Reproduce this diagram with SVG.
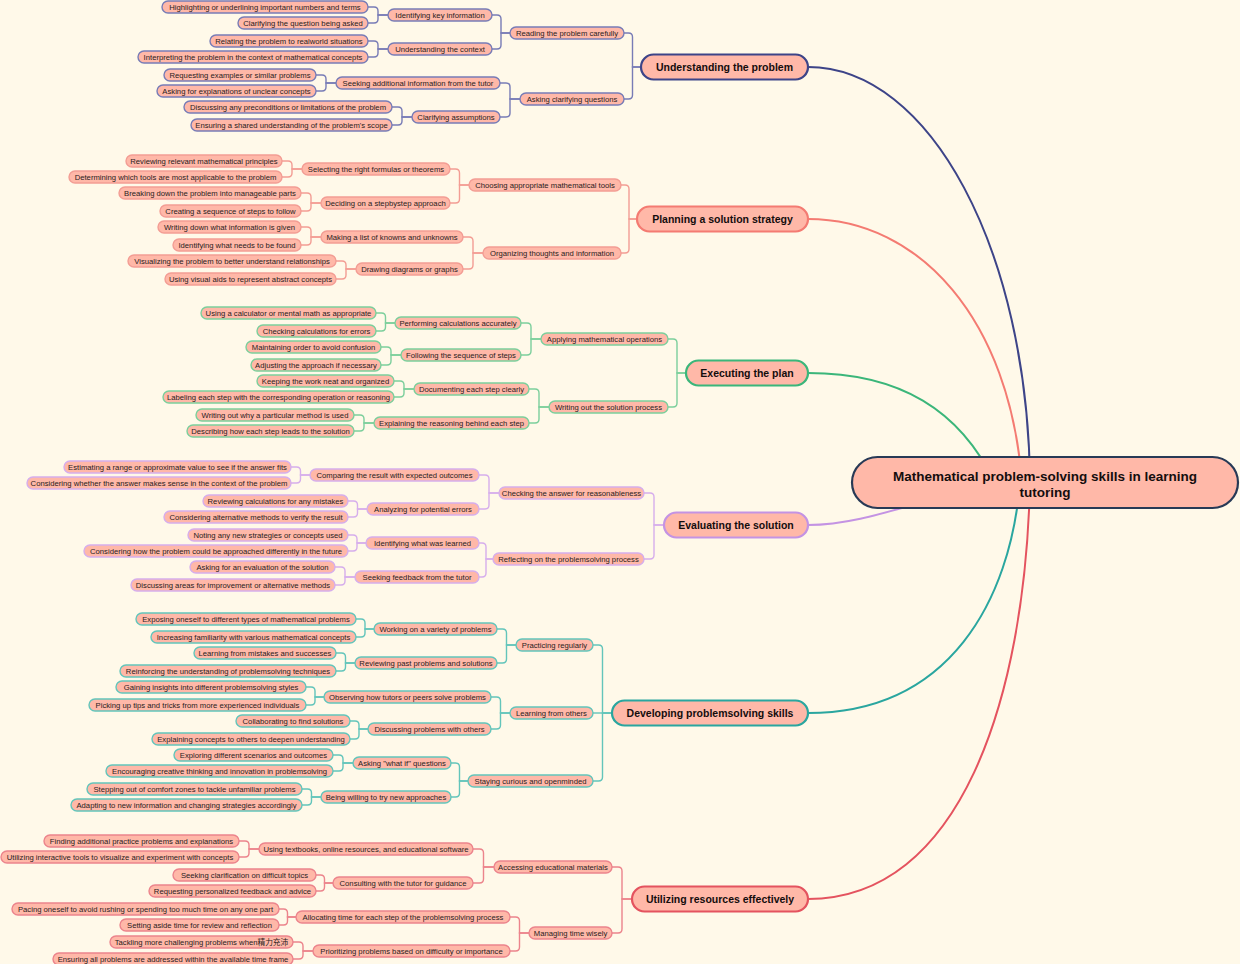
<svg xmlns="http://www.w3.org/2000/svg" width="1240" height="964" viewBox="0 0 1240 964">
<style>
.bg{fill:#fff9e9}
.nd rect{fill:#ffb8a8;stroke-width:1.4}
.nd text{font-family:"Liberation Sans","Noto Sans CJK SC",Arial,sans-serif;font-size:7.7px;fill:#2a1c1c;text-anchor:middle}
.mn rect{fill:#ffb8a8;stroke-width:2.2}
.mn text{font-family:"Liberation Sans",Arial,sans-serif;font-size:10.5px;font-weight:bold;fill:#140d0d;text-anchor:middle}
.ct rect{fill:#ffb8a8;stroke:#283a56;stroke-width:2.2}
.ct text{font-family:"Liberation Sans",Arial,sans-serif;font-size:13.5px;font-weight:bold;fill:#140d0d;text-anchor:middle}
.cn path{fill:none;stroke-width:1.4}
.mc path{fill:none;stroke-width:2}
.bu rect,.cbu{stroke:#787cb6}
.bp rect,.cbp{stroke:#f39d94}
.be rect,.cbe{stroke:#7ccf9c}
.bv rect,.cbv{stroke:#d6aeec}
.bd rect,.cbd{stroke:#63c5bb}
.bt rect,.cbt{stroke:#ec848c}
</style>
<rect class="bg" x="0" y="0" width="1240" height="964"/>

<g id="connectors">
<g class="mc">
<path d="M808,67 C930,67 1028,250 1030,483" stroke="#3d4488"/>
<path d="M808,219 C920,219 1010,320 1022,483" stroke="#f47b72"/>
<path d="M808,373 C900,373 960,410 995,483" stroke="#3bb67a"/>
<path d="M808,525 C880,525 950,483 1030,483" stroke="#c493e3"/>
<path d="M808,713 C950,713 1010,600 1020,483" stroke="#2aa69f"/>
<path d="M808,899 C960,899 1025,700 1030,483" stroke="#e4535f"/>
</g>
<g class="cn">
<g class="cbu">
<path d="M368,7 H374 Q378,7 378,11 V15 H388"/><path d="M368,23 H374 Q378,23 378,19 V15 H388"/>
<path d="M368,41 H374 Q378,41 378,45 V49 H388"/><path d="M368,57 H374 Q378,57 378,53 V49 H388"/>
<path d="M492,15 H497 Q501,15 501,19 V33 H510"/><path d="M492,49 H497 Q501,49 501,45 V33 H510"/>
<path d="M316,75 H322 Q326,75 326,79 V83 H336"/><path d="M316,91 H322 Q326,91 326,87 V83 H336"/>
<path d="M392,107 H398 Q402,107 402,111 V117 H412"/><path d="M392,125 H398 Q402,125 402,121 V117 H412"/>
<path d="M500,83 H506 Q510,83 510,87 V99 H520"/><path d="M500,117 H506 Q510,117 510,113 V99 H520"/>
<path d="M624,33 H628.5 Q632.5,33 632.5,37 V67 H641"/><path d="M624,99 H628.5 Q632.5,99 632.5,95 V67 H641"/>
</g>
<g class="cbp">
<path d="M282,161 H288 Q292,161 292,165 V169 H302"/><path d="M282,177 H288 Q292,177 292,173 V169 H302"/>
<path d="M301,193 H307 Q311,193 311,197 V203 H321"/><path d="M301,211 H307 Q311,211 311,207 V203 H321"/>
<path d="M450,169 H455.5 Q459.5,169 459.5,173 V185 H469"/><path d="M450,203 H455.5 Q459.5,203 459.5,199 V185 H469"/>
<path d="M301,227 H307 Q311,227 311,231 V237 H321"/><path d="M301,245 H307 Q311,245 311,241 V237 H321"/>
<path d="M336,261 H342 Q346,261 346,265 V269 H356"/><path d="M336,279 H342 Q346,279 346,275 V269 H356"/>
<path d="M463,237 H469 Q473,237 473,241 V253 H483"/><path d="M463,269 H469 Q473,269 473,265 V253 H483"/>
<path d="M621,185 H625 Q629,185 629,189 V219 H637"/><path d="M621,253 H625 Q629,253 629,249 V219 H637"/>
</g>
<g class="cbe">
<path d="M376,313 H381.5 Q385.5,313 385.5,317 V323 H395"/><path d="M376,331 H381.5 Q385.5,331 385.5,327 V323 H395"/>
<path d="M381,347 H387 Q391,347 391,351 V355 H401"/><path d="M381,365 H387 Q391,365 391,361 V355 H401"/>
<path d="M521,323 H527 Q531,323 531,327 V339 H541"/><path d="M521,355 H527 Q531,355 531,351 V339 H541"/>
<path d="M394,381 H400 Q404,381 404,385 V389 H414"/><path d="M394,397 H400 Q404,397 404,393 V389 H414"/>
<path d="M354,415 H360 Q364,415 364,419 V423 H374"/><path d="M354,431 H360 Q364,431 364,427 V423 H374"/>
<path d="M529,389 H535 Q539,389 539,393 V407 H549"/><path d="M529,423 H535 Q539,423 539,419 V407 H549"/>
<path d="M668,339 H673 Q677,339 677,343 V373 H686"/><path d="M668,407 H673 Q677,407 677,403 V373 H686"/>
</g>
<g class="cbv">
<path d="M291,467 H296.5 Q300.5,467 300.5,471 V475 H310"/><path d="M291,483 H296.5 Q300.5,483 300.5,479 V475 H310"/>
<path d="M348,501 H353.5 Q357.5,501 357.5,505 V509 H367"/><path d="M348,517 H353.5 Q357.5,517 357.5,513 V509 H367"/>
<path d="M479,475 H485 Q489,475 489,479 V493 H499"/><path d="M479,509 H485 Q489,509 489,505 V493 H499"/>
<path d="M348,535 H353 Q357,535 357,539 V543 H366"/><path d="M348,551 H353 Q357,551 357,547 V543 H366"/>
<path d="M335,567 H341 Q345,567 345,571 V577 H355"/><path d="M335,585 H341 Q345,585 345,581 V577 H355"/>
<path d="M479,543 H482 Q486,543 486,547 V559 H493"/><path d="M479,577 H482 Q486,577 486,573 V559 H493"/>
<path d="M644,493 H650 Q654,493 654,497 V525 H664"/><path d="M644,559 H650 Q654,559 654,555 V525 H664"/>
</g>
<g class="cbd">
<path d="M356,619 H361 Q365,619 365,623 V629 H374"/><path d="M356,637 H361 Q365,637 365,633 V629 H374"/>
<path d="M336,653 H341.5 Q345.5,653 345.5,657 V663 H355"/><path d="M336,671 H341.5 Q345.5,671 345.5,667 V663 H355"/>
<path d="M497,629 H502.5 Q506.5,629 506.5,633 V645 H516"/><path d="M497,663 H502.5 Q506.5,663 506.5,659 V645 H516"/>
<path d="M306,687 H311 Q315,687 315,691 V697 H324"/><path d="M306,705 H311 Q315,705 315,701 V697 H324"/>
<path d="M350,721 H355 Q359,721 359,725 V729 H368"/><path d="M350,739 H355 Q359,739 359,735 V729 H368"/>
<path d="M491,697 H496.5 Q500.5,697 500.5,701 V713 H510"/><path d="M491,729 H496.5 Q500.5,729 500.5,725 V713 H510"/>
<path d="M333,755 H339 Q343,755 343,759 V763 H353"/><path d="M333,771 H339 Q343,771 343,767 V763 H353"/>
<path d="M302,789 H307.5 Q311.5,789 311.5,793 V797 H321"/><path d="M302,805 H307.5 Q311.5,805 311.5,801 V797 H321"/>
<path d="M451,763 H455.5 Q459.5,763 459.5,767 V781 H468"/><path d="M451,797 H455.5 Q459.5,797 459.5,793 V781 H468"/>
<path d="M593,645 H598.5 Q602.5,645 602.5,649 V713 H612"/><path d="M593,713 H612"/><path d="M593,781 H598.5 Q602.5,781 602.5,777 V713 H612"/>
</g>
<g class="cbt">
<path d="M239,841 H245 Q249,841 249,845 V849 H259"/><path d="M239,857 H245 Q249,857 249,853 V849 H259"/>
<path d="M316,875 H320.5 Q324.5,875 324.5,879 V883 H333"/><path d="M316,891 H320.5 Q324.5,891 324.5,887 V883 H333"/>
<path d="M473,849 H479.5 Q483.5,849 483.5,853 V867 H494"/><path d="M473,883 H479.5 Q483.5,883 483.5,879 V867 H494"/>
<path d="M279,909 H283.5 Q287.5,909 287.5,913 V917 H296"/><path d="M279,925 H283.5 Q287.5,925 287.5,921 V917 H296"/>
<path d="M293,942 H299 Q303,942 303,946 V951 H313"/><path d="M293,959 H299 Q303,959 303,955 V951 H313"/>
<path d="M510,917 H515.5 Q519.5,917 519.5,921 V933 H529"/><path d="M510,951 H515.5 Q519.5,951 519.5,947 V933 H529"/>
<path d="M612,867 H618 Q622,867 622,871 V899 H632"/><path d="M612,933 H618 Q622,933 622,929 V899 H632"/>
</g>
</g>
</g>

<g id="center" class="ct"><rect x="852" y="457" width="386" height="51" rx="25.5"/><text x="1045" y="481">Mathematical problem-solving skills in learning</text><text x="1045" y="497">tutoring</text></g>

<g id="m-u" class="mn"><rect x="641" y="54.5" width="167" height="25" rx="12.5" stroke="#3d4488"/><text x="724.5" y="70.8">Understanding the problem</text></g>
<g id="m-p" class="mn"><rect x="637" y="206.5" width="171" height="25" rx="12.5" stroke="#f47b72"/><text x="722.5" y="222.8">Planning a solution strategy</text></g>
<g id="m-e" class="mn"><rect x="686" y="360.5" width="122" height="25" rx="12.5" stroke="#3bb67a"/><text x="747" y="376.8">Executing the plan</text></g>
<g id="m-v" class="mn"><rect x="664" y="512.5" width="144" height="25" rx="12.5" stroke="#c493e3"/><text x="736" y="528.8">Evaluating the solution</text></g>
<g id="m-d" class="mn"><rect x="612" y="700.5" width="196" height="25" rx="12.5" stroke="#2aa69f"/><text x="710" y="716.8">Developing problemsolving skills</text></g>
<g id="m-t" class="mn"><rect x="632" y="886.5" width="176" height="25" rx="12.5" stroke="#e4535f"/><text x="720" y="902.8">Utilizing resources effectively</text></g>

<g id="u1" class="nd bu"><rect x="162" y="1" width="206" height="12" rx="6"/><text x="265" y="9.8">Highlighting or underlining important numbers and terms</text></g>
<g id="u2" class="nd bu"><rect x="238" y="17" width="130" height="12" rx="6"/><text x="303" y="25.8">Clarifying the question being asked</text></g>
<g id="u3" class="nd bu"><rect x="388" y="9" width="104" height="12" rx="6"/><text x="440" y="17.8">Identifying key information</text></g>
<g id="u4" class="nd bu"><rect x="210" y="35" width="158" height="12" rx="6"/><text x="289" y="43.8">Relating the problem to realworld situations</text></g>
<g id="u5" class="nd bu"><rect x="138" y="51" width="230" height="12" rx="6"/><text x="253" y="59.8">Interpreting the problem in the context of mathematical concepts</text></g>
<g id="u6" class="nd bu"><rect x="388" y="43" width="104" height="12" rx="6"/><text x="440" y="51.8">Understanding the context</text></g>
<g id="u7" class="nd bu"><rect x="510" y="27" width="114" height="12" rx="6"/><text x="567" y="35.8">Reading the problem carefully</text></g>
<g id="u8" class="nd bu"><rect x="164" y="69" width="152" height="12" rx="6"/><text x="240" y="77.8">Requesting examples or similar problems</text></g>
<g id="u9" class="nd bu"><rect x="157" y="85" width="159" height="12" rx="6"/><text x="236.5" y="93.8">Asking for explanations of unclear concepts</text></g>
<g id="u10" class="nd bu"><rect x="336" y="77" width="164" height="12" rx="6"/><text x="418" y="85.8">Seeking additional information from the tutor</text></g>
<g id="u11" class="nd bu"><rect x="184" y="101" width="208" height="12" rx="6"/><text x="288" y="109.8">Discussing any preconditions or limitations of the problem</text></g>
<g id="u12" class="nd bu"><rect x="191" y="119" width="201" height="12" rx="6"/><text x="291.5" y="127.8">Ensuring a shared understanding of the problem's scope</text></g>
<g id="u13" class="nd bu"><rect x="412" y="111" width="88" height="12" rx="6"/><text x="456" y="119.8">Clarifying assumptions</text></g>
<g id="u14" class="nd bu"><rect x="520" y="93" width="104" height="12" rx="6"/><text x="572" y="101.8">Asking clarifying questions</text></g>

<g id="p1" class="nd bp"><rect x="126" y="155" width="156" height="12" rx="6"/><text x="204" y="163.8">Reviewing relevant mathematical principles</text></g>
<g id="p2" class="nd bp"><rect x="69" y="171" width="213" height="12" rx="6"/><text x="175.5" y="179.8">Determining which tools are most applicable to the problem</text></g>
<g id="p3" class="nd bp"><rect x="302" y="163" width="148" height="12" rx="6"/><text x="376" y="171.8">Selecting the right formulas or theorems</text></g>
<g id="p4" class="nd bp"><rect x="119" y="187" width="182" height="12" rx="6"/><text x="210" y="195.8">Breaking down the problem into manageable parts</text></g>
<g id="p5" class="nd bp"><rect x="160" y="205" width="141" height="12" rx="6"/><text x="230.5" y="213.8">Creating a sequence of steps to follow</text></g>
<g id="p6" class="nd bp"><rect x="321" y="197" width="129" height="12" rx="6"/><text x="385.5" y="205.8">Deciding on a stepbystep approach</text></g>
<g id="p7" class="nd bp"><rect x="469" y="179" width="152" height="12" rx="6"/><text x="545" y="187.8">Choosing appropriate mathematical tools</text></g>
<g id="p8" class="nd bp"><rect x="158" y="221" width="143" height="12" rx="6"/><text x="229.5" y="229.8">Writing down what information is given</text></g>
<g id="p9" class="nd bp"><rect x="173" y="239" width="128" height="12" rx="6"/><text x="237" y="247.8">Identifying what needs to be found</text></g>
<g id="p10" class="nd bp"><rect x="321" y="231" width="142" height="12" rx="6"/><text x="392" y="239.8">Making a list of knowns and unknowns</text></g>
<g id="p11" class="nd bp"><rect x="128" y="255" width="208" height="12" rx="6"/><text x="232" y="263.8">Visualizing the problem to better understand relationships</text></g>
<g id="p12" class="nd bp"><rect x="165" y="273" width="171" height="12" rx="6"/><text x="250.5" y="281.8">Using visual aids to represent abstract concepts</text></g>
<g id="p13" class="nd bp"><rect x="356" y="263" width="107" height="12" rx="6"/><text x="409.5" y="271.8">Drawing diagrams or graphs</text></g>
<g id="p14" class="nd bp"><rect x="483" y="247" width="138" height="12" rx="6"/><text x="552" y="255.8">Organizing thoughts and information</text></g>

<g id="e1" class="nd be"><rect x="201" y="307" width="175" height="12" rx="6"/><text x="288.5" y="315.8">Using a calculator or mental math as appropriate</text></g>
<g id="e2" class="nd be"><rect x="257" y="325" width="119" height="12" rx="6"/><text x="316.5" y="333.8">Checking calculations for errors</text></g>
<g id="e3" class="nd be"><rect x="395" y="317" width="126" height="12" rx="6"/><text x="458" y="325.8">Performing calculations accurately</text></g>
<g id="e4" class="nd be"><rect x="246" y="341" width="135" height="12" rx="6"/><text x="313.5" y="349.8">Maintaining order to avoid confusion</text></g>
<g id="e5" class="nd be"><rect x="251" y="359" width="130" height="12" rx="6"/><text x="316" y="367.8">Adjusting the approach if necessary</text></g>
<g id="e6" class="nd be"><rect x="401" y="349" width="120" height="12" rx="6"/><text x="461" y="357.8">Following the sequence of steps</text></g>
<g id="e7" class="nd be"><rect x="541" y="333" width="127" height="12" rx="6"/><text x="604.5" y="341.8">Applying mathematical operations</text></g>
<g id="e8" class="nd be"><rect x="257" y="375" width="137" height="12" rx="6"/><text x="325.5" y="383.8">Keeping the work neat and organized</text></g>
<g id="e9" class="nd be"><rect x="163" y="391" width="231" height="12" rx="6"/><text x="278.5" y="399.8">Labeling each step with the corresponding operation or reasoning</text></g>
<g id="e10" class="nd be"><rect x="414" y="383" width="115" height="12" rx="6"/><text x="471.5" y="391.8">Documenting each step clearly</text></g>
<g id="e11" class="nd be"><rect x="196" y="409" width="158" height="12" rx="6"/><text x="275" y="417.8">Writing out why a particular method is used</text></g>
<g id="e12" class="nd be"><rect x="187" y="425" width="167" height="12" rx="6"/><text x="270.5" y="433.8">Describing how each step leads to the solution</text></g>
<g id="e13" class="nd be"><rect x="374" y="417" width="155" height="12" rx="6"/><text x="451.5" y="425.8">Explaining the reasoning behind each step</text></g>
<g id="e14" class="nd be"><rect x="549" y="401" width="119" height="12" rx="6"/><text x="608.5" y="409.8">Writing out the solution process</text></g>

<g id="v1" class="nd bv"><rect x="64" y="461" width="227" height="12" rx="6"/><text x="177.5" y="469.8">Estimating a range or approximate value to see if the answer fits</text></g>
<g id="v2" class="nd bv"><rect x="27" y="477" width="264" height="12" rx="6"/><text x="159" y="485.8">Considering whether the answer makes sense in the context of the problem</text></g>
<g id="v3" class="nd bv"><rect x="310" y="469" width="169" height="12" rx="6"/><text x="394.5" y="477.8">Comparing the result with expected outcomes</text></g>
<g id="v4" class="nd bv"><rect x="203" y="495" width="145" height="12" rx="6"/><text x="275.5" y="503.8">Reviewing calculations for any mistakes</text></g>
<g id="v5" class="nd bv"><rect x="164" y="511" width="184" height="12" rx="6"/><text x="256" y="519.8">Considering alternative methods to verify the result</text></g>
<g id="v6" class="nd bv"><rect x="367" y="503" width="112" height="12" rx="6"/><text x="423" y="511.8">Analyzing for potential errors</text></g>
<g id="v7" class="nd bv"><rect x="499" y="487" width="145" height="12" rx="6"/><text x="571.5" y="495.8">Checking the answer for reasonableness</text></g>
<g id="v8" class="nd bv"><rect x="188" y="529" width="160" height="12" rx="6"/><text x="268" y="537.8">Noting any new strategies or concepts used</text></g>
<g id="v9" class="nd bv"><rect x="84" y="545" width="264" height="12" rx="6"/><text x="216" y="553.8">Considering how the problem could be approached differently in the future</text></g>
<g id="v10" class="nd bv"><rect x="366" y="537" width="113" height="12" rx="6"/><text x="422.5" y="545.8">Identifying what was learned</text></g>
<g id="v11" class="nd bv"><rect x="190" y="561" width="145" height="12" rx="6"/><text x="262.5" y="569.8">Asking for an evaluation of the solution</text></g>
<g id="v12" class="nd bv"><rect x="131" y="579" width="204" height="12" rx="6"/><text x="233" y="587.8">Discussing areas for improvement or alternative methods</text></g>
<g id="v13" class="nd bv"><rect x="355" y="571" width="124" height="12" rx="6"/><text x="417" y="579.8">Seeking feedback from the tutor</text></g>
<g id="v14" class="nd bv"><rect x="493" y="553" width="151" height="12" rx="6"/><text x="568.5" y="561.8">Reflecting on the problemsolving process</text></g>

<g id="d1" class="nd bd"><rect x="136" y="613" width="220" height="12" rx="6"/><text x="246" y="621.8">Exposing oneself to different types of mathematical problems</text></g>
<g id="d2" class="nd bd"><rect x="151" y="631" width="205" height="12" rx="6"/><text x="253.5" y="639.8">Increasing familiarity with various mathematical concepts</text></g>
<g id="d3" class="nd bd"><rect x="374" y="623" width="123" height="12" rx="6"/><text x="435.5" y="631.8">Working on a variety of problems</text></g>
<g id="d4" class="nd bd"><rect x="194" y="647" width="142" height="12" rx="6"/><text x="265" y="655.8">Learning from mistakes and successes</text></g>
<g id="d5" class="nd bd"><rect x="120" y="665" width="216" height="12" rx="6"/><text x="228" y="673.8">Reinforcing the understanding of problemsolving techniques</text></g>
<g id="d6" class="nd bd"><rect x="355" y="657" width="142" height="12" rx="6"/><text x="426" y="665.8">Reviewing past problems and solutions</text></g>
<g id="d7" class="nd bd"><rect x="516" y="639" width="77" height="12" rx="6"/><text x="554.5" y="647.8">Practicing regularly</text></g>
<g id="d8" class="nd bd"><rect x="116" y="681" width="190" height="12" rx="6"/><text x="211" y="689.8">Gaining insights into different problemsolving styles</text></g>
<g id="d9" class="nd bd"><rect x="89" y="699" width="217" height="12" rx="6"/><text x="197.5" y="707.8">Picking up tips and tricks from more experienced individuals</text></g>
<g id="d10" class="nd bd"><rect x="324" y="691" width="167" height="12" rx="6"/><text x="407.5" y="699.8">Observing how tutors or peers solve problems</text></g>
<g id="d11" class="nd bd"><rect x="236" y="715" width="114" height="12" rx="6"/><text x="293" y="723.8">Collaborating to find solutions</text></g>
<g id="d12" class="nd bd"><rect x="152" y="733" width="198" height="12" rx="6"/><text x="251" y="741.8">Explaining concepts to others to deepen understanding</text></g>
<g id="d13" class="nd bd"><rect x="368" y="723" width="123" height="12" rx="6"/><text x="429.5" y="731.8">Discussing problems with others</text></g>
<g id="d14" class="nd bd"><rect x="510" y="707" width="83" height="12" rx="6"/><text x="551.5" y="715.8">Learning from others</text></g>
<g id="d15" class="nd bd"><rect x="174" y="749" width="159" height="12" rx="6"/><text x="253.5" y="757.8">Exploring different scenarios and outcomes</text></g>
<g id="d16" class="nd bd"><rect x="106" y="765" width="227" height="12" rx="6"/><text x="219.5" y="773.8">Encouraging creative thinking and innovation in problemsolving</text></g>
<g id="d17" class="nd bd"><rect x="353" y="757" width="98" height="12" rx="6"/><text x="402" y="765.8">Asking "what if" questions</text></g>
<g id="d18" class="nd bd"><rect x="87" y="783" width="215" height="12" rx="6"/><text x="194.5" y="791.8">Stepping out of comfort zones to tackle unfamiliar problems</text></g>
<g id="d19" class="nd bd"><rect x="71" y="799" width="231" height="12" rx="6"/><text x="186.5" y="807.8">Adapting to new information and changing strategies accordingly</text></g>
<g id="d20" class="nd bd"><rect x="321" y="791" width="130" height="12" rx="6"/><text x="386" y="799.8">Being willing to try new approaches</text></g>
<g id="d21" class="nd bd"><rect x="468" y="775" width="125" height="12" rx="6"/><text x="530.5" y="783.8">Staying curious and openminded</text></g>

<g id="t1" class="nd bt"><rect x="44" y="835" width="195" height="12" rx="6"/><text x="141.5" y="843.8">Finding additional practice problems and explanations</text></g>
<g id="t2" class="nd bt"><rect x="1" y="851" width="238" height="12" rx="6"/><text x="120" y="859.8">Utilizing interactive tools to visualize and experiment with concepts</text></g>
<g id="t3" class="nd bt"><rect x="259" y="843" width="214" height="12" rx="6"/><text x="366" y="851.8">Using textbooks, online resources, and educational software</text></g>
<g id="t4" class="nd bt"><rect x="173" y="869" width="143" height="12" rx="6"/><text x="244.5" y="877.8">Seeking clarification on difficult topics</text></g>
<g id="t5" class="nd bt"><rect x="149" y="885" width="167" height="12" rx="6"/><text x="232.5" y="893.8">Requesting personalized feedback and advice</text></g>
<g id="t6" class="nd bt"><rect x="333" y="877" width="140" height="12" rx="6"/><text x="403" y="885.8">Consulting with the tutor for guidance</text></g>
<g id="t7" class="nd bt"><rect x="494" y="861" width="118" height="12" rx="6"/><text x="553" y="869.8">Accessing educational materials</text></g>
<g id="t8" class="nd bt"><rect x="12" y="903" width="267" height="12" rx="6"/><text x="145.5" y="911.8">Pacing oneself to avoid rushing or spending too much time on any one part</text></g>
<g id="t9" class="nd bt"><rect x="120" y="919" width="159" height="12" rx="6"/><text x="199.5" y="927.8">Setting aside time for review and reflection</text></g>
<g id="t10" class="nd bt"><rect x="296" y="911" width="214" height="12" rx="6"/><text x="403" y="919.8">Allocating time for each step of the problemsolving process</text></g>
<g id="t11" class="nd bt"><rect x="110" y="936" width="183" height="12" rx="6"/><text x="201.5" y="944.8">Tackling more challenging problems when精力充沛</text></g>
<g id="t12" class="nd bt"><rect x="53" y="953" width="240" height="12" rx="6"/><text x="173" y="961.8">Ensuring all problems are addressed within the available time frame</text></g>
<g id="t13" class="nd bt"><rect x="313" y="945" width="197" height="12" rx="6"/><text x="411.5" y="953.8">Prioritizing problems based on difficulty or importance</text></g>
<g id="t14" class="nd bt"><rect x="529" y="927" width="83" height="12" rx="6"/><text x="570.5" y="935.8">Managing time wisely</text></g>
</svg>
